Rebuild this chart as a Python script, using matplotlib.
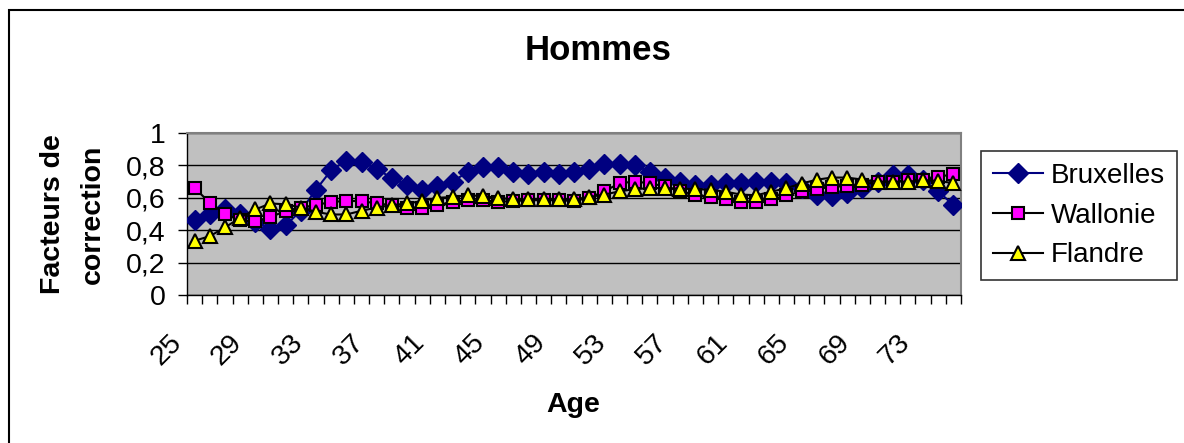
import numpy as np
import matplotlib.pyplot as plt
from matplotlib.ticker import FuncFormatter, MultipleLocator
from matplotlib.transforms import ScaledTranslation
from matplotlib.patches import Rectangle

plt.rcParams['font.family'] = ['Liberation Sans', 'DejaVu Sans']

# correction factors by age, men
ages = list(range(25, 76))

bruxelles = [0.46, 0.50, 0.53, 0.50, 0.45, 0.41, 0.43, 0.52, 0.65, 0.77,
             0.83, 0.82, 0.78, 0.72, 0.68, 0.65, 0.67, 0.70, 0.76, 0.79,
             0.79, 0.76, 0.75, 0.76, 0.75, 0.76, 0.78, 0.81, 0.81, 0.80,
             0.76, 0.72, 0.70, 0.68, 0.68, 0.69, 0.69, 0.70, 0.70, 0.69,
             0.66, 0.62, 0.61, 0.63, 0.66, 0.70, 0.74, 0.74, 0.71, 0.64,
             0.555]

wallonie = [0.66, 0.57, 0.50, 0.46, 0.455, 0.48, 0.52, 0.54, 0.555, 0.575,
            0.58, 0.58, 0.565, 0.555, 0.54, 0.54, 0.555, 0.575, 0.585, 0.585,
            0.575, 0.58, 0.585, 0.585, 0.585, 0.58, 0.60, 0.64, 0.69, 0.70,
            0.69, 0.67, 0.64, 0.62, 0.605, 0.59, 0.575, 0.575, 0.59, 0.615,
            0.64, 0.655, 0.667, 0.673, 0.68, 0.70, 0.70, 0.71, 0.71, 0.73,
            0.745]

flandre = [0.335, 0.363, 0.417, 0.476, 0.528, 0.565, 0.56, 0.54, 0.513, 0.497,
           0.497, 0.52, 0.54, 0.555, 0.565, 0.58, 0.60, 0.605, 0.616, 0.61,
           0.60, 0.59, 0.59, 0.595, 0.59, 0.59, 0.605, 0.62, 0.64, 0.653,
           0.66, 0.66, 0.657, 0.653, 0.65, 0.637, 0.62, 0.616, 0.637, 0.66,
           0.688, 0.712, 0.725, 0.725, 0.712, 0.70, 0.70, 0.70, 0.708, 0.705,
           0.69]

x = np.arange(len(ages))

fig = plt.figure(figsize=(11.84, 4.43), dpi=100)
ax = fig.add_axes([187/1184, 1 - 295/443, 774/1184, 162/443])
ax.set_facecolor('#C0C0C0')

ax.plot(x, bruxelles, color='#000080', lw=1.5, marker='D', ms=10,
        mfc='#000080', mec='#000080', label='Bruxelles', zorder=3)
ax.plot(x, wallonie, color='black', lw=1.5, marker='s', ms=9,
        mfc='#FF00FF', mec='black', mew=1.5, label='Wallonie', zorder=4)
ax.plot(x, flandre, color='black', lw=1.5, marker='^', ms=10,
        mfc='#FFFF00', mec='black', mew=1.5, label='Flandre', zorder=5)

ax.set_xlim(-0.5, len(ages) - 0.5)
ax.set_ylim(0, 1)

# y axis
ax.yaxis.set_major_locator(MultipleLocator(0.2))
ax.yaxis.set_major_formatter(FuncFormatter(lambda v, p: ('%g' % round(v, 1)).replace('.', ',')))
ax.tick_params(axis='y', direction='out', length=6.5, width=1, pad=9, labelsize=20.5)
ax.grid(axis='y', color='black', lw=1)
ax.set_axisbelow(True)

# x axis: ticks between categories, labels every 4 years
ax.set_xticks(np.arange(-0.5, len(ages)), minor=True)
ax.set_xticks(x[::4])
ax.set_xticklabels([str(a) for a in ages[::4]])
ax.tick_params(axis='x', which='minor', direction='out', length=6.5, width=1)
ax.tick_params(axis='x', which='major', length=0, pad=39.6, labelsize=20.5)
shift = ScaledTranslation(-28/100, 0, fig.dpi_scale_trans)
for lab in ax.get_xticklabels():
    lab.set_rotation(45)
    lab.set_ha('center')
    lab.set_va('center')
    lab.set_transform(lab.get_transform() + shift)

for side in ['top', 'right']:
    ax.spines[side].set_color('#808080')
    ax.spines[side].set_linewidth(1.5)
for side in ['left', 'bottom']:
    ax.spines[side].set_color('black')
    ax.spines[side].set_linewidth(1)

fig.text(598/1184, 1 - 50/443, 'Hommes', ha='center', va='center',
         fontsize=25, fontweight='bold')
fig.text(573/1184, 1 - 405/443, 'Age', ha='center', va='center',
         fontsize=20.5, fontweight='bold')
fig.text(53/1184, 1 - 214/443, 'Facteurs de', ha='center', va='center',
         rotation=90, fontsize=20.5, fontweight='bold')
fig.text(93/1184, 1 - 214/443, 'correction', ha='center', va='center',
         rotation=90, fontsize=20.5, fontweight='bold')

leg = fig.legend(loc='upper left', bbox_to_anchor=(981/1184, 1 - 151/443),
                 fontsize=20, frameon=True, fancybox=False, edgecolor='black',
                 handlelength=1.8, handletextpad=0.3, labelspacing=0.5,
                 borderpad=0.42, borderaxespad=0)
leg.get_frame().set_linewidth(1.2)

# outer chart border
fig.add_artist(Rectangle((9/1184, -0.1), 1.2, 1.1 - 10/443, transform=fig.transFigure,
                         fill=False, edgecolor='black', lw=1.5))

fig.savefig('out.png', dpi=100)
